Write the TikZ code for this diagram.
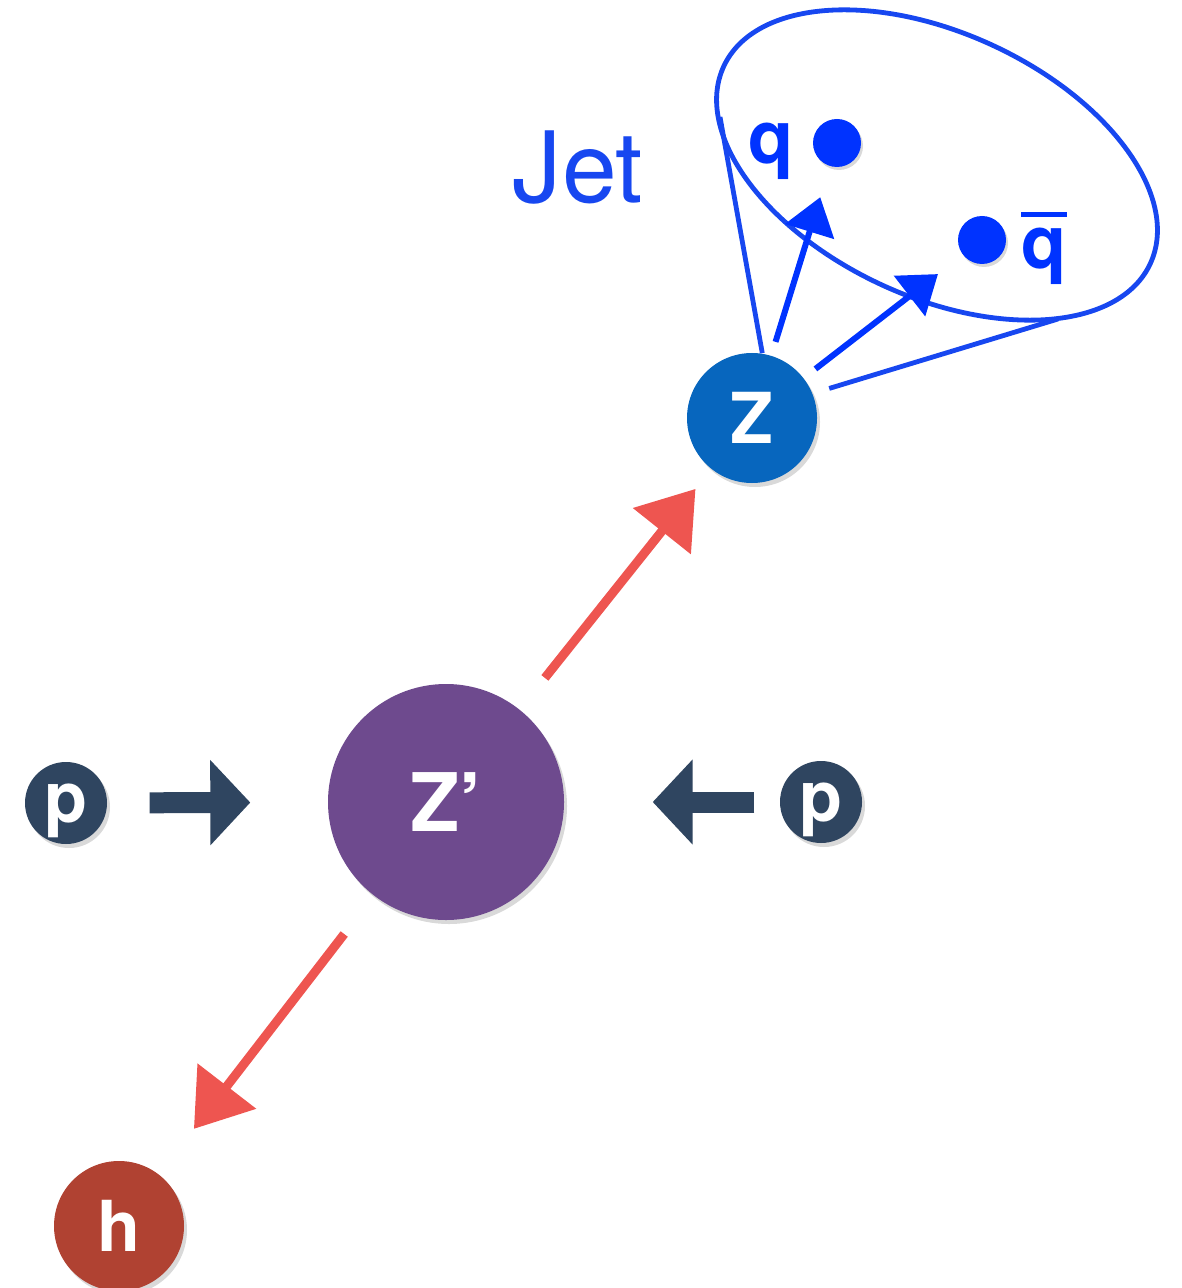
\documentclass[tikz,border=0pt]{standalone}
\usepackage{fontspec}
\setmainfont{TeX Gyre Heros}
\usetikzlibrary{arrows.meta,shadows,positioning}

\definecolor{zpviolet}{HTML}{6E4A8E}
\definecolor{protonblue}{HTML}{2F4560}
\definecolor{zblue}{HTML}{0766BE}
\definecolor{higgsred}{HTML}{B04232}
\definecolor{decayred}{HTML}{EE5550}
\definecolor{jetblue}{HTML}{1747F0}
\definecolor{quarkblue}{HTML}{0033FF}

\begin{document}
\begin{tikzpicture}[x=1cm,y=1cm,
    particle/.style={circle,inner sep=0pt,text depth=0pt,text=white,font=\fontsize{20}{20}\selectfont\bfseries,drop shadow={shadow xshift=0.03cm,shadow yshift=-0.04cm,opacity=0.3}},
    quark/.style={circle,fill=quarkblue,inner sep=0pt,minimum size=0.48cm,drop shadow={shadow xshift=0.02cm,shadow yshift=-0.03cm,opacity=0.3}},
    label node/.style={inner sep=0pt,text depth=0pt,text=quarkblue,font=\fontsize{21}{21}\selectfont\bfseries},
    beam/.style={-{Triangle[length=0.4cm,width=0.83cm]},line width=0.21cm,draw=protonblue},
    decay/.style={-{Triangle[length=0.54cm,width=0.72cm]},line width=0.09cm,draw=decayred},
    splitting/.style={-{Triangle[length=0.36cm,width=0.5cm]},line width=0.06cm,draw=quarkblue},
    cone/.style={line width=0.048cm,draw=jetblue}]
    \useasboundingbox (0,0) rectangle (11.81,-12.88);

    \node[particle,fill=zpviolet,minimum size=2.36cm,font=\fontsize{23}{23}\selectfont\bfseries] (zp) at (4.46,-8.02) {Z’};
    \node[particle,fill=protonblue,minimum size=0.82cm] (pl) at (0.66,-8.03) {p};
    \node[particle,fill=protonblue,minimum size=0.82cm] (pr) at (8.21,-8.02) {p};
    \node[particle,fill=zblue,minimum size=1.3cm] (z) at (7.52,-4.18) {Z};
    \node[particle,fill=higgsred,minimum size=1.3cm] (h) at (1.19,-12.26) {h};

    % quarks inside the jet
    \node[quark] (qdot) at (8.37,-1.43) {};
    \node[quark] (qbdot) at (9.82,-2.40) {};
    \node[label node] (qlab) [left=0.18cm of qdot] {q};
    \node[label node] (qblab) [right=0.14cm of qbdot] {\vbox{\hrule height 1.5pt\kern 3pt\hbox{q}}};
    \node[text=jetblue,font=\fontsize{28}{28}\selectfont] (jetlab) at (5.78,-1.68) {Jet};

    % jet cone
    \coordinate (jl) at (7.20,-1.17);
    \coordinate (jr) at (10.58,-3.19);
    \draw[cone,rotate around={-24.8:(9.37,-1.65)}] (9.37,-1.65) ellipse [x radius=2.35cm,y radius=1.32cm];
    \draw[cone] (z.81) -- (jl);
    \draw[cone,shorten <=0.17cm] (z.22) -- (jr);

    \path
        (pl) edge[beam,shorten <=0.42cm,shorten >=0.77cm] (zp)
        (pr) edge[beam,shorten <=0.25cm,shorten >=0.88cm] (zp)
        (zp) edge[decay,shorten <=0.40cm,shorten >=0.25cm] (z)
        (zp) edge[decay,shorten <=0.48cm,shorten >=0.57cm] (h)
        (z) edge[splitting,shorten <=0.14cm,shorten >=0.32cm] (qdot)
        (z) edge[splitting,shorten <=0.145cm,shorten >=0.31cm] (qbdot)
        ;
\end{tikzpicture}
\end{document}
